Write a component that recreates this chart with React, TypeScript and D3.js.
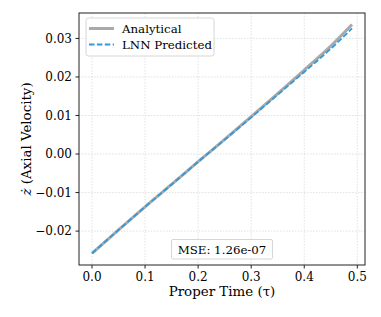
import React from "react";
import * as d3 from "d3";

// proper time samples and the two velocity curves
const tau = [0, 0.05, 0.1, 0.15, 0.2, 0.25, 0.3, 0.35, 0.4, 0.45, 0.49];
const analytical = [-0.0258, -0.0197, -0.0137, -0.0079, -0.002, 0.0038, 0.0097, 0.0157, 0.0218, 0.028, 0.0336];
const predicted = [-0.0258, -0.0197, -0.0137, -0.0079, -0.002, 0.0037, 0.0095, 0.0154, 0.0213, 0.0273, 0.0326];

const xTicks = [0, 0.1, 0.2, 0.3, 0.4, 0.5];
const yTicks = [-0.02, -0.01, 0, 0.01, 0.02, 0.03];
const mseText = "MSE: 1.26e-07";

const width = 381;
const height = 317;
const marginLeft = 79;
const marginRight = 16;
const marginTop = 13;
const marginBottom = 52;

const font = "'DejaVu Serif', serif";

export default function App() {
  const x = d3
    .scaleLinear()
    .domain([-0.0245, 0.5145])
    .range([marginLeft, width - marginRight]);
  const y = d3
    .scaleLinear()
    .domain([-0.0288, 0.0366])
    .range([height - marginBottom, marginTop]);

  const line = d3
    .line<number>()
    .x((_, i) => x(tau[i]))
    .y((d) => y(d))
    .curve(d3.curveMonotoneX);

  const bottom = height - marginBottom;
  const right = width - marginRight;

  return (
    <svg
      width={width}
      height={height}
      style={{ position: "absolute", left: 0, top: 0, background: "white" }}
      fontFamily={font}
    >
      {/* grid */}
      <g stroke="#d9d9d9" strokeWidth={0.8} strokeDasharray="1.5,1.5">
        {xTicks.map((t) => (
          <line key={"gx" + t} x1={x(t)} x2={x(t)} y1={marginTop} y2={bottom} />
        ))}
        {yTicks.map((t) => (
          <line key={"gy" + t} x1={marginLeft} x2={right} y1={y(t)} y2={y(t)} />
        ))}
      </g>

      {/* curves */}
      <path d={line(analytical) ?? ""} fill="none" stroke="#a9a9a9" strokeWidth={3} />
      <path
        d={line(predicted) ?? ""}
        fill="none"
        stroke="#3498db"
        strokeWidth={1.8}
        strokeDasharray="5.5,2.4"
      />

      {/* spines */}
      <rect
        x={marginLeft}
        y={marginTop}
        width={right - marginLeft}
        height={bottom - marginTop}
        fill="none"
        stroke="#222"
        strokeWidth={1}
      />

      {/* ticks */}
      <g fontSize={12} fill="#000">
        {xTicks.map((t) => (
          <g key={"xt" + t}>
            <line x1={x(t)} x2={x(t)} y1={bottom} y2={bottom + 3.5} stroke="#222" />
            <text x={x(t)} y={bottom + 15.5} textAnchor="middle">
              {t.toFixed(1)}
            </text>
          </g>
        ))}
        {yTicks.map((t) => (
          <g key={"yt" + t}>
            <line x1={marginLeft - 3.5} x2={marginLeft} y1={y(t)} y2={y(t)} stroke="#222" />
            <text x={marginLeft - 7} y={y(t) + 4.2} textAnchor="end">
              {t < 0 ? "\u2212" + Math.abs(t).toFixed(2) : t.toFixed(2)}
            </text>
          </g>
        ))}
      </g>

      <text
        x={(marginLeft + right) / 2}
        y={296}
        textAnchor="middle"
        fontSize={13.4}
        fill="#000"
      >
        Proper Time (τ)
      </text>
      <text
        transform={`translate(31, ${(marginTop + bottom) / 2}) rotate(-90)`}
        textAnchor="middle"
        fontSize={13.4}
        fill="#000"
      >
        <tspan fontStyle="italic">ż</tspan> (Axial Velocity)
      </text>

      {/* legend */}
      <g>
        <rect x={86} y={18} width={128} height={38} rx={2.5} fill="white" fillOpacity={0.85} stroke="#d6d6d6" />
        <line x1={89} x2={114} y1={28.5} y2={28.5} stroke="#a9a9a9" strokeWidth={3} />
        <line x1={89} x2={114} y1={44.5} y2={44.5} stroke="#3498db" strokeWidth={1.8} strokeDasharray="5.5,2.4" />
        <text x={122} y={32.5} fontSize={11.8} fill="#000">Analytical</text>
        <text x={122} y={48.5} fontSize={11.8} fill="#000">LNN Predicted</text>
      </g>

      {/* MSE box */}
      <g>
        <rect x={171.5} y={239.5} width={101} height={19.5} rx={1.5} fill="white" fillOpacity={0.85} stroke="#d6d6d6" />
        <text x={222} y={253.5} textAnchor="middle" fontSize={11.8} fill="#000">
          {mseText}
        </text>
      </g>
    </svg>
  );
}
